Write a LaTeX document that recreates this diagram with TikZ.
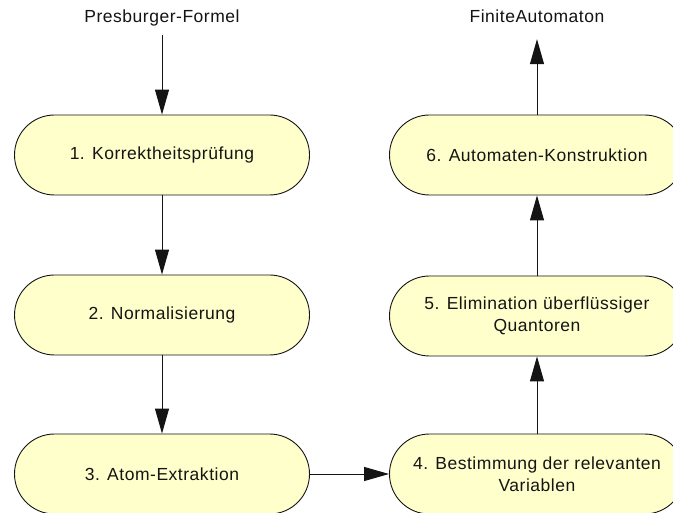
\documentclass[tikz,border=0pt]{standalone}
\usepackage{fontspec}
\setmainfont{Liberation Sans}[LetterSpace=3]
\usetikzlibrary{shapes.misc,arrows.meta}

\definecolor{stagefill}{RGB}{255,255,204}
\definecolor{ink}{RGB}{20,20,20}

\tikzset{
  stage/.style={draw=ink, line width=0.9pt, fill=stagefill, rounded rectangle,
    minimum width=295pt, minimum height=80pt, inner sep=0pt, align=center,
    font=\fontsize{17.5}{21.5}\selectfont, text=ink},
  endlabel/.style={inner xsep=2pt, inner ysep=11pt, text height=12.5pt, text depth=3.5pt,
    font=\fontsize{17.5}{21.5}\selectfont, text=ink},
  flow/.style={draw=ink, line width=1pt, -{Triangle[length=25pt,width=14pt]}}
}

\begin{document}
\begin{tikzpicture}[x=1pt, y=-1pt]
  % page frame and clipping of the shapes that run past the edges
  \fill[white] (0,0) rectangle (673,513);
  \useasboundingbox (0,0) rectangle (673,513);
  \clip (0,0) rectangle (673,513);

  % input and output
  \node[endlabel] (pf) at (162,18) {Presburger-Formel};
  \node[endlabel] (fa) at (537,18) {FiniteAutomaton};

  % processing stages, left column downwards
  \node[stage] (s1) at (162,155) {1. Korrektheitsprüfung};
  \node[stage] (s2) at (162,315) {2. Normalisierung};
  \node[stage] (s3) at (162,474) {3. Atom-Extraktion};

  % right column upwards
  \node[stage] (s4) at (537,474) {4. Bestimmung der relevanten\\Variablen};
  \node[stage] (s5) at (537,316) {5. Elimination überflüssiger\\Quantoren};
  \node[stage] (s6) at (537,155) {6. Automaten-Konstruktion};

  % connectors
  \draw[flow] ([yshift=2pt]pf.south) -- (s1.north);
  \draw[flow] (s1.south) -- (s2.north);
  \draw[flow] (s2.south) -- (s3.north);
  \draw[flow] (s3.east) -- (s4.west);
  \draw[flow] (s4.north) -- (s5.south);
  \draw[flow] (s5.north) -- (s6.south);
  \draw[flow] (s6.north) -- ([yshift=-2pt]fa.south);
\end{tikzpicture}
\end{document}
